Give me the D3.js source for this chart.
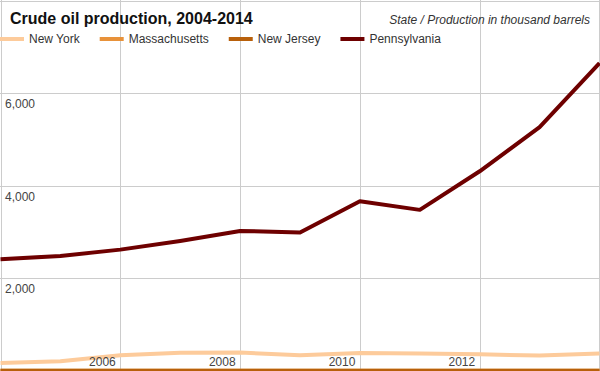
<!DOCTYPE html>
<html>
<head>
<meta charset="utf-8">
<script src="https://cdn.jsdelivr.net/npm/d3@7"></script>
<style>
  body { margin: 0; background: #fff; }
  text { font-family: "Liberation Sans", Arial, sans-serif; }
</style>
</head>
<body>
<div id="chart"></div>
<script>
const years = [2004, 2005, 2006, 2007, 2008, 2009, 2010, 2011, 2012, 2013, 2014]
const newYork = [169, 205, 335, 389, 394, 335, 385, 372, 357, 329, 372]
const massachusetts = [0, 0, 0, 0, 0, 0, 0, 0, 0, 0, 0]
const newJersey = [0, 0, 0, 0, 0, 0, 0, 0, 0, 0, 0]
const pennsylvania = [2411, 2482, 2618, 2806, 3022, 2986, 3665, 3477, 4310, 5265, 6649]
const yTicks = [2000, 4000, 6000]
const xTicks = [2006, 2008, 2010, 2012]

const series = [
    { name: 'New York', values: newYork, color: '#fdcb9b' },
    { name: 'Massachusetts', values: massachusetts, color: '#e8923a' },
    { name: 'New Jersey', values: newJersey, color: '#b8600b' },
    { name: 'Pennsylvania', values: pennsylvania, color: '#6e0000' }
]

const w = 600, h = 371

const svg = d3.select('#chart')
    .append('svg')
    .attr('width', w)
    .attr('height', h)

const x = d3.scaleLinear().domain([2004, 2014]).range([0.5, w - 0.5])
const y = d3.scaleLinear().domain([0, 8000]).range([370.8, 0.5])

// grid
const grid = svg.append('g').attr('stroke', '#cccccc').attr('stroke-width', 1)
grid.selectAll('line.v')
    .data([2004, 2006, 2008, 2010, 2012, 2014]).enter()
    .append('line')
    .attr('x1', d => Math.round(x(d)) + (d === 2014 ? -0.5 : 0.5))
    .attr('x2', d => Math.round(x(d)) + (d === 2014 ? -0.5 : 0.5))
    .attr('y1', 0).attr('y2', h)
grid.selectAll('line.h')
    .data([2000, 4000, 6000, 8000]).enter()
    .append('line')
    .attr('x1', 0).attr('x2', w)
    .attr('y1', d => Math.round(y(d)) + 0.5)
    .attr('y2', d => Math.round(y(d)) + 0.5)

// lines
const line = d3.line()
    .x((d, i) => x(years[i]))
    .y(d => y(d))

svg.append('g')
    .selectAll('path')
    .data(series).enter()
    .append('path')
    .attr('d', d => line(d.values))
    .attr('fill', 'none')
    .attr('stroke', d => d.color)
    .attr('stroke-width', 4)
    .attr('stroke-linejoin', 'round')

// axis labels
svg.append('g')
    .selectAll('text')
    .data(yTicks).enter()
    .append('text')
    .attr('x', 5)
    .attr('y', d => y(d) + 15)
    .attr('font-size', 12)
    .attr('fill', '#444')
    .text(d => d3.format(',')(d))

svg.append('g')
    .selectAll('text')
    .data(xTicks).enter()
    .append('text')
    .attr('x', d => x(d) - 4.5)
    .attr('y', 366)
    .attr('text-anchor', 'end')
    .attr('font-size', 12)
    .attr('fill', '#444')
    .text(d => d)

// title
svg.append('text')
    .attr('x', 10)
    .attr('y', 24)
    .attr('font-size', 16)
    .attr('font-weight', 'bold')
    .attr('fill', '#111')
    .text('Crude oil production, 2004-2014')

svg.append('text')
    .attr('x', 590)
    .attr('y', 24)
    .attr('text-anchor', 'end')
    .attr('font-size', 12)
    .attr('font-style', 'italic')
    .attr('fill', '#333')
    .text('State / Production in thousand barrels')

// legend
const legend = svg.append('g')
let lx = 0
series.forEach(s => {
    const g = legend.append('g').attr('transform', `translate(${lx}, 39)`)
    g.append('line')
        .attr('x1', 0).attr('x2', 24)
        .attr('stroke', s.color)
        .attr('stroke-width', 4)
    const t = g.append('text')
        .attr('x', 29)
        .attr('y', 4)
        .attr('font-size', 12)
        .attr('fill', '#333')
        .text(s.name)
    lx += 29 + t.node().getComputedTextLength() + 20
})
</script>
</body>
</html>
